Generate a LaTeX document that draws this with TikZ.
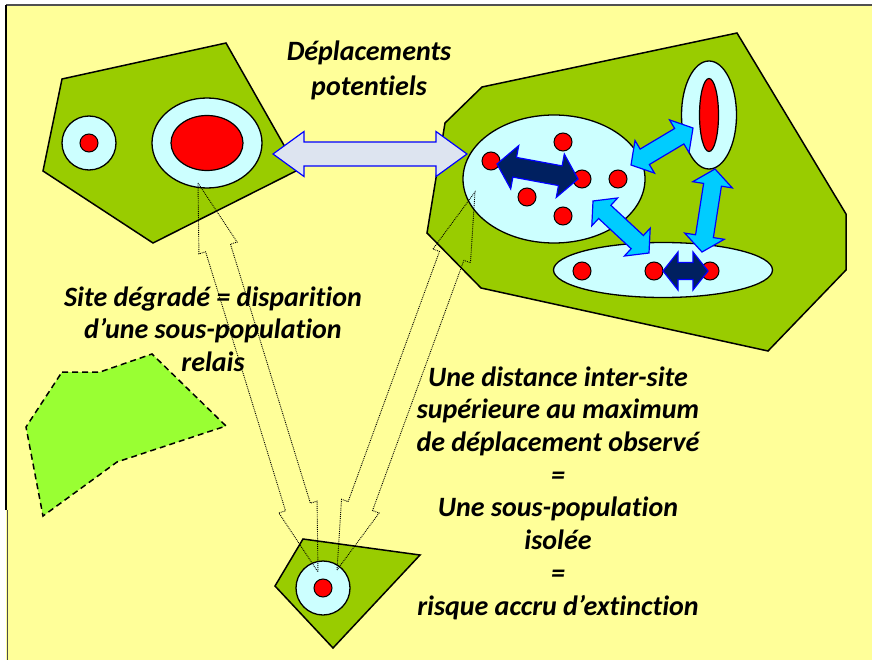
\documentclass[tikz,border=0pt]{standalone}
\usepackage{fontspec}
\setmainfont[Ligatures=NoCommon]{Carlito}
\usepackage{tikz}
\usetikzlibrary{shapes.geometric, calc}
\definecolor{bgyellow}{RGB}{255, 255, 153}
\definecolor{sitegreen}{RGB}{153, 204, 0}
\definecolor{lostgreen}{RGB}{153, 255, 51}
\definecolor{paleblue}{RGB}{204, 255, 255}
\definecolor{popred}{RGB}{255, 0, 0}
\definecolor{navyblue}{RGB}{0, 32, 96}
\definecolor{skyblue}{RGB}{0, 204, 255}
\definecolor{lavender}{RGB}{221, 228, 240}
\definecolor{framegray}{RGB}{80, 80, 80}

% block double arrow: tips #2 and #3, shaft half width #4, head half width #5, head length #6
\newcommand{\blockdarrow}[6][]{%
    \coordinate (pa) at ($(#2)!#6!(#3)$);
    \coordinate (pb) at ($(#3)!#6!(#2)$);
    \draw[#1] (#2) -- ($(pa)!#5!90:(#3)$) -- ($(pa)!#4!90:(#3)$)
        -- ($(pb)!#4!-90:(#2)$) -- ($(pb)!#5!-90:(#2)$) -- (#3)
        -- ($(pb)!#5!90:(#2)$) -- ($(pb)!#4!90:(#2)$)
        -- ($(pa)!#4!-90:(#3)$) -- ($(pa)!#5!-90:(#3)$) -- cycle;
}

\begin{document}
\begin{tikzpicture}[x=1pt, y=-1pt,
    site/.style={draw=black, line width=1.5pt, fill=sitegreen},
    pond/.style={ellipse, draw=black, line width=1.3pt, fill=paleblue, inner sep=0pt},
    core/.style={ellipse, draw=black, line width=1.2pt, fill=popred, inner sep=0pt},
    popdot/.style={circle, draw=black, line width=1pt, fill=popred, inner sep=0pt, minimum size=18pt},
    txtblock/.style={font=\fontsize{28}{32.7}\selectfont\bfseries\itshape, align=center},
    dotlink/.style={draw=black, line width=0.9pt, densely dotted},
    skylink/.style={draw=blue, line width=1.2pt, fill=skyblue, line join=miter},
    navylink/.style={draw=blue, line width=1.2pt, fill=navyblue, line join=miter}]
\useasboundingbox (0,0) rectangle (872,660);

% Background and frame
\fill[white] (0,0) rectangle (872,660);
\fill[bgyellow] (6,5) rectangle (872,660);
\draw[framegray, line width=2pt] (6,5) -- (872,5);
\draw[black, line width=2pt] (6,5) -- (6,510);
\draw[black!70, line width=0.8pt] (7,510) -- (7,660);

% Sites
\draw[site] (62,79) -- (226,43) -- (298,170) -- (153,243) -- (43,171) -- cycle;
\draw[site] (445,123) -- (482,87) -- (737,33) -- (846,214) -- (846,270) -- (768,351) -- (481,288) -- (427,233) -- cycle;
\draw[site] (303,539) -- (420,555) -- (333,648) -- (275,586) -- cycle;
\draw[fill=lostgreen, line width=1.5pt, dash pattern=on 6pt off 4pt]
    (62,372) -- (100,372) -- (152,354) -- (226,426) -- (117,462) -- (43,516) -- (26,427) -- cycle;

% Ponds and populations
\node[pond, minimum width=54pt, minimum height=54pt] (pondA) at (89,143) {};
\node[popdot] (dotA) at (89,143) {};
\node[pond, minimum width=110pt, minimum height=90pt] (pondL) at (207,143) {};
\node[core, minimum width=72pt, minimum height=55pt] (coreL) at (207,143) {};
\node[pond, minimum width=182pt, minimum height=128pt] (pondR) at (554,179) {};
\node[pond, minimum width=55pt, minimum height=108pt] (pondV) at (709,115) {};
\node[core, minimum width=19pt, minimum height=73pt] (coreV) at (709,115) {};
\node[pond, minimum width=219pt, minimum height=55pt] (pondH) at (663,270) {};
\node[pond, minimum width=54pt, minimum height=54pt] (pondB) at (323,588) {};
\node[popdot] (dotB) at (323,588) {};

\foreach \x/\y/\n in {563/142/r1, 491/161/r2, 582/179/r3, 618/179/r4, 527/197/r5, 563/216/r6,
                      582/271/h1, 654/271/h2, 710/271/h3}
    \node[popdot] (\n) at (\x,\y) {};

% Arrow ends
\coordinate (tL1) at ($(pondL)+(-9,40)$);
\coordinate (tB1) at ($(pondB)+(-5,-16)$);
\coordinate (tB2) at ($(pondB)+(14,-18)$);
\coordinate (tR1) at ($(pondR)+(-79,13)$);
\coordinate (eL) at ($(coreL)+(66,11)$);
\coordinate (eR) at ($(pondR)+(-87,-25)$);
\coordinate (nA) at ($(r2)+(6,3)$);
\coordinate (nB) at ($(r3)+(-4,0)$);
\coordinate (nC) at ($(h2)+(9,0)$);
\coordinate (nD) at ($(h3)+(-2,0)$);
\coordinate (s1) at ($(pondR)+(77,-14)$);
\coordinate (s2) at ($(pondV)+(-16,13)$);
\coordinate (s3) at ($(pondR)+(39,22)$);
\coordinate (s4) at ($(pondH)+(-14,-17)$);
\coordinate (s5) at ($(pondV)+(6,54)$);
\coordinate (s6) at ($(pondH)+(39,-18)$);

% Dotted links to the isolated site
\blockdarrow[dotlink]{tL1}{tB1}{13pt}{20pt}{68pt}
\blockdarrow[dotlink]{tB2}{tR1}{13pt}{20pt}{68pt}

% Potential moves
\blockdarrow[draw=blue, line width=1.2pt, fill=lavender]{eL}{eR}{12pt}{22.5pt}{31pt}
\blockdarrow[navylink]{nA}{nB}{10pt}{22pt}{18pt}
\blockdarrow[navylink]{nC}{nD}{8.5pt}{19pt}{15pt}
\blockdarrow[skylink]{s1}{s2}{9pt}{19pt}{16pt}
\blockdarrow[skylink]{s3}{s4}{9pt}{19pt}{16pt}
\blockdarrow[skylink]{s5}{s6}{9pt}{20pt}{16pt}

% Texts
\node[txtblock, font=\fontsize{28}{35}\selectfont\bfseries\itshape] (depl) at (369,70) {Déplacements\\potentiels};
\node[txtblock] (site) at (213,329) {Site dégradé = disparition\\d’une sous-population\\relais};
\node[txtblock] (dist) at (558,493) {Une distance inter-site\\supérieure au maximum\\de déplacement observé\\=\\Une sous-population\\isolée\\=\\risque accru d’extinction};
\end{tikzpicture}
\end{document}
